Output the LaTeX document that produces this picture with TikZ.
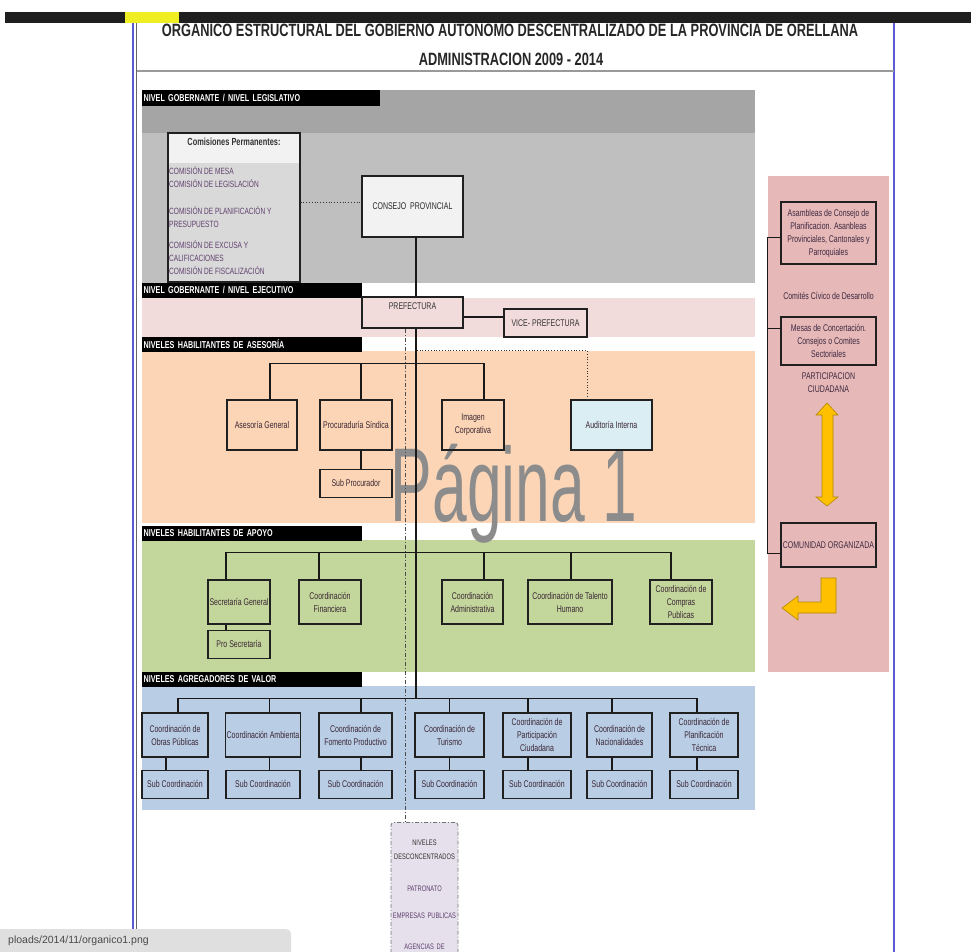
\documentclass[tikz,border=0pt]{standalone}
\usepackage{graphicx}
\usepackage{fontspec}
\setmainfont{Liberation Sans}[FakeStretch=0.72]
\newfontfamily\plainfont{Liberation Sans}
\usetikzlibrary{positioning,calc}

\definecolor{graydk}{HTML}{A5A5A5}
\definecolor{graylt}{HTML}{BFBFBF}
\definecolor{comistop}{HTML}{F2F2F2}
\definecolor{comisbot}{HTML}{D9D9D9}
\definecolor{consejofill}{HTML}{F2F2F2}
\definecolor{pinkband}{HTML}{F2DCDB}
\definecolor{orangeband}{HTML}{FBD5B5}
\definecolor{greenband}{HTML}{C3D69B}
\definecolor{blueband}{HTML}{B9CDE5}
\definecolor{panelpink}{HTML}{E6B9B8}
\definecolor{auditfill}{HTML}{DBEEF4}
\definecolor{descfill}{HTML}{E5E0EC}
\definecolor{boxline}{HTML}{202020}
\definecolor{boxtext}{HTML}{3A2634}
\definecolor{comcol}{HTML}{60406E}
\definecolor{paneltext}{HTML}{3E2840}
\definecolor{desctext}{HTML}{333333}
\definecolor{wmark}{HTML}{8C8C8C}
\definecolor{hilite}{HTML}{EEEE22}
\definecolor{pageblue}{HTML}{5B5BD6}
\definecolor{arrowfill}{HTML}{FFC000}
\definecolor{arrowline}{HTML}{B38600}
\definecolor{tipfill}{HTML}{DFDFDF}
\definecolor{tiptext}{HTML}{4A4A4A}

\newcommand\boxtxt{\fontsize{9.7}{13}\selectfont}
\newcommand\labtxt{\fontsize{10}{10}\selectfont\bfseries}
\newcommand\ttltxt{\fontsize{17.8}{19}\selectfont\bfseries}
\newcommand\comtxt{\fontsize{9.1}{13}\selectfont}
\newcommand\comhead{\fontsize{10.3}{11}\selectfont\bfseries}
\newcommand\desctxt{\fontsize{8}{14}\selectfont}

\begin{document}
\begin{tikzpicture}[x=1pt,y=-1pt,
  box/.style={draw=boxline,line width=1.2pt,align=center,inner sep=1pt,text=boxtext,font=\boxtxt},
  lab/.style={fill=black,text=white,font=\labtxt,anchor=north west,inner xsep=1.5pt,inner ysep=0pt,minimum height=14.5pt,align=left},
  note/.style={inner sep=0pt,align=center,font=\boxtxt,text=paneltext},
  conn/.style={line width=1.2pt,draw=black!90},
  dotline/.style={line width=0.8pt,dotted,draw=black!80},
  dashdotline/.style={line width=0.8pt,dash pattern=on 4pt off 2pt on 1pt off 2pt,draw=black!70},
  blockarrow/.style={fill=arrowfill,draw=arrowline,line width=0.6pt,line join=miter}]
\useasboundingbox (0,0) rectangle (971,952);
\clip (0,0) rectangle (971,952);

% page frame
\fill[white] (0,0) rectangle (971,952);
\fill[black!88] (5,12) rectangle (971,23);
\fill[hilite] (125,12) rectangle (179,23);
\draw[line width=1.2pt,pageblue] (133,23) -- (133,952);
\draw[line width=1.2pt,black!60] (136.5,23) -- (136.5,952);
\draw[line width=1.5pt,pageblue] (894,23) -- (894,952);
\draw[line width=1.6pt,black!40] (137,71) -- (894,71);
\node[font=\ttltxt,text=black!85,inner sep=0pt] (title) at (510,30) {ORGANICO ESTRUCTURAL DEL GOBIERNO AUTONOMO DESCENTRALIZADO DE LA PROVINCIA DE ORELLANA};
\node[font=\ttltxt,text=black!85,inner sep=0pt] (admin) at (511,59) {ADMINISTRACION 2009 - 2014};

% bands
\fill[graydk] (142,90) rectangle (755,133);
\fill[graylt] (142,133) rectangle (755,283);
\fill[pinkband] (142,298) rectangle (755,337);
\fill[orangeband] (142,351) rectangle (755,523);
\fill[greenband] (142,540) rectangle (755,672);
\fill[blueband] (142,686) rectangle (755,810);
\fill[panelpink] (768,176) rectangle (889,672);

% level labels
\node[lab,minimum height=16pt,text width=235pt] (lbleg) at (142,90) {NIVEL GOBERNANTE / NIVEL LEGISLATIVO};
\node[lab,text width=217pt] (lbejec) at (142,283) {NIVEL GOBERNANTE / NIVEL EJECUTIVO};
\node[lab,text width=217pt] (lbases) at (142,337) {NIVELES HABILITANTES DE ASESORÍA};
\node[lab,text width=217pt] (lbapoyo) at (142,526) {NIVELES HABILITANTES DE APOYO};
\node[lab,text width=217pt] (lbvalor) at (142,672) {NIVELES AGREGADORES DE VALOR};

% watermark
\node[text=wmark,font=\plainfont\fontsize{105}{105}\selectfont,inner sep=0pt,anchor=base] (wm) at (514,521) {\scalebox{0.594}[1]{Página 1}};

% legislativo
\node[box,fill=comisbot,minimum width=132,minimum height=149,
  path picture={\fill[comistop] (path picture bounding box.north west) rectangle ([yshift=-30pt]path picture bounding box.north east);}] (comis) at (234,207.5) {};
\node[font=\comhead,text=black!80,inner sep=0pt] (comhd) at (234,142) {Comisiones Permanentes:};
\node[anchor=north west,align=left,font=\comtxt,text=comcol,inner sep=0pt] (comlist) at (169,166)
  {COMISIÓN DE MESA\\COMISIÓN DE LEGISLACIÓN\\[14pt]COMISIÓN DE PLANIFICACIÓN Y\\PRESUPUESTO\\[8pt]COMISIÓN DE EXCUSA Y\\CALIFICACIONES\\COMISIÓN DE FISCALIZACIÓN};
\node[box,fill=consejofill,text=black!85,minimum width=101,minimum height=61] (consejo) at (412.5,206.5) {CONSEJO\ \ PROVINCIAL};

% ejecutivo
\node[box,fill=pinkband,text=black!80,minimum width=101,minimum height=31,inner ysep=4pt,text height=8pt,text depth=15pt] (pref) at (412.5,312.5) {PREFECTURA};
\node[box,fill=pinkband,text=black!80,minimum width=83,minimum height=28] (vice) at (545.5,323) {VICE- PREFECTURA};

% asesoria
\node[box,minimum width=70,minimum height=50] (asesgen) at (262,425) {Asesoría General};
\node[box,minimum width=72,minimum height=50] (procu) at (356,425) {Procuraduría Síndica};
\node[box,minimum width=62,minimum height=50] (imagen) at (473,425) {Imagen\\Corporativa};
\node[box,fill=auditfill,minimum width=81,minimum height=50] (audit) at (611.5,425) {Auditoría Interna};
\node[box,minimum width=72,minimum height=28,below=18pt of procu] (subproc) {Sub Procurador};

% apoyo
\node[box,minimum width=62,minimum height=44] (secgen) at (239,602) {Secretaría General};
\node[box,minimum width=62,minimum height=44] (coordfin) at (330,602) {Coordinación\\Financiera};
\node[box,minimum width=61,minimum height=44] (coordadm) at (472.5,602) {Coordinación\\Administrativa};
\node[box,minimum width=84,minimum height=44] (talento) at (570,602) {Coordinación de Talento\\Humano};
\node[box,minimum width=62,minimum height=44] (compras) at (681,602) {Coordinación de\\Compras\\Publicas};
\node[box,minimum width=62,minimum height=28,below=5pt of secgen] (prosec) {Pro Secretaría};

% agregadores de valor
\node[box,minimum width=66,minimum height=44] (obras) at (175,735) {Coordinación de\\Obras Públicas};
\node[box,minimum width=74,minimum height=44] (ambiental) at (263,735) {Coordinación Ambienta};
\node[box,minimum width=73,minimum height=44] (fomento) at (355.5,735) {Coordinación de\\Fomento Productivo};
\node[box,minimum width=69,minimum height=44] (turismo) at (449.5,735) {Coordinación de\\Turismo};
\node[box,minimum width=68,minimum height=44] (particip) at (537,735) {Coordinación de\\Participación\\Ciudadana};
\node[box,minimum width=65,minimum height=44] (nacional) at (619.5,735) {Coordinación de\\Nacionalidades};
\node[box,minimum width=68,minimum height=44] (planif) at (704,735) {Coordinación de\\Planificación\\Técnica};
\foreach \n/\w/\dx in {obras/66/-9,ambiental/74/6.5,fomento/73/5.5,turismo/69/0,particip/68/-9,nacional/65/-7.5,planif/68/-7}{
  \node[box,minimum width=\w,minimum height=28,below=12pt of \n] (sub\n) {Sub Coordinación};
  \draw[conn] ($(\n.south)+(\dx,0)$) -- ($(sub\n.north)+(\dx,0)$);
}

% desconcentrados
\node[draw=black!55,fill=descfill,line width=0.8pt,dash pattern=on 4pt off 2pt on 1pt off 2pt,rounded corners=3pt,
  anchor=north,text width=66pt,align=center,inner xsep=0.5pt,inner ysep=18pt,font=\desctxt,text=desctext] (desc) at (424.5,822)
  {NIVELES\\DESCONCENTRADOS\\[18pt]{\color{comcol}PATRONATO}\\[13pt]{\color{comcol}EMPRESAS PUBLICAS}\\[17pt]{\color{comcol}AGENCIAS DE}};

% participacion ciudadana
\node[box,minimum width=95,minimum height=62,text=paneltext] (asamb) at (828.5,233) {Asambleas de Consejo de\\Planificacion. Asanbleas\\Provinciales, Cantonales y\\Parroquiales};
\node[note] (comites) at (828.5,296) {Comités Cívico de Desarrollo};
\node[box,minimum width=95,minimum height=48,text=paneltext] (mesas) at (828.5,341) {Mesas de Concertación.\\Consejos o Comites\\Sectoriales};
\node[note] (partic) at (828.5,383) {PARTICIPACION\\CIUDADANA};
\node[box,minimum width=95,minimum height=44,text=paneltext] (comun) at (828.5,545) {COMUNIDAD ORGANIZADA};
\draw[conn,line width=0.9pt] ($(asamb.west)+(0,4)$) -- ++(-13,0) |- ($(comun.west)+(0,8)$);
\draw[conn,line width=0.9pt] ($(mesas.west)+(0,-13)$) -- ++(-13,0);
\filldraw[blockarrow] (827,403) -- (838,415) -- (833,415) -- (833,497) -- (838,497) -- (827,506)
  -- (816,497) -- (822,497) -- (822,415) -- (816,415) -- cycle;
\filldraw[blockarrow] (821,578) -- (836,578) -- (836,613) -- (798,613) -- (798,620) -- (782,608)
  -- (798,596) -- (798,602) -- (821,602) -- cycle;

% connectors
\coordinate (trunk) at (416,0);
\coordinate (busA) at ($(asesgen.north)+(8,-36)$);
\coordinate (busB) at ($(secgen.north)+(-13,-27)$);
\coordinate (busV) at ($(obras.north)+(3,-14)$);
\coordinate (audtop) at ($(audit.north)+(-24.5,-49)$);
\draw[dotline] ($(comis.east)+(0,-5)$) -- ($(consejo.west)+(0,-4)$);
\draw[conn] (consejo.south -| trunk) -- (pref.north -| trunk);
\draw[conn] (pref.south -| trunk) -- (trunk |- busV);
\draw[conn] ($(pref.east)+(0,4.5)$) -- ($(vice.west)+(0,-6)$);
\draw[dashdotline] ($(pref.south)+(-7.5,0)$) -- ($(desc.north)+(-19.5,0)$);
\draw[dotline] ($(audit.north)+(-24.5,0)$) -- (audtop) -- (audtop -| trunk);
\foreach \n/\dx in {asesgen/8,procu/5,imagen/11}
  \draw[conn] ($(\n.north)+(\dx,0)$) |- (busA);
\draw[conn] ($(procu.south)+(5,0)$) -- ($(subproc.north)+(5,0)$);
\foreach \n/\dx in {secgen/-13,coordfin/-11,coordadm/11.5,talento/1,compras/-10}
  \draw[conn] ($(\n.north)+(\dx,0)$) |- (busB);
\draw[conn] ($(secgen.south)+(-13,0)$) -- ($(prosec.north)+(-13,0)$);
\foreach \n/\dx in {obras/3,ambiental/6.5,fomento/5.5,turismo/0,particip/-9,nacional/-7.5,planif/-7}
  \draw[conn] ($(\n.north)+(\dx,0)$) |- (busV);

% status tooltip
\fill[tipfill,rounded corners=5pt] (-6,929) rectangle (291,960);
\node[anchor=west,font=\plainfont\fontsize{10.5}{12}\selectfont,text=tiptext,inner sep=0pt] (tip) at (8,941) {ploads/2014/11/organico1.png};
\end{tikzpicture}
\end{document}
